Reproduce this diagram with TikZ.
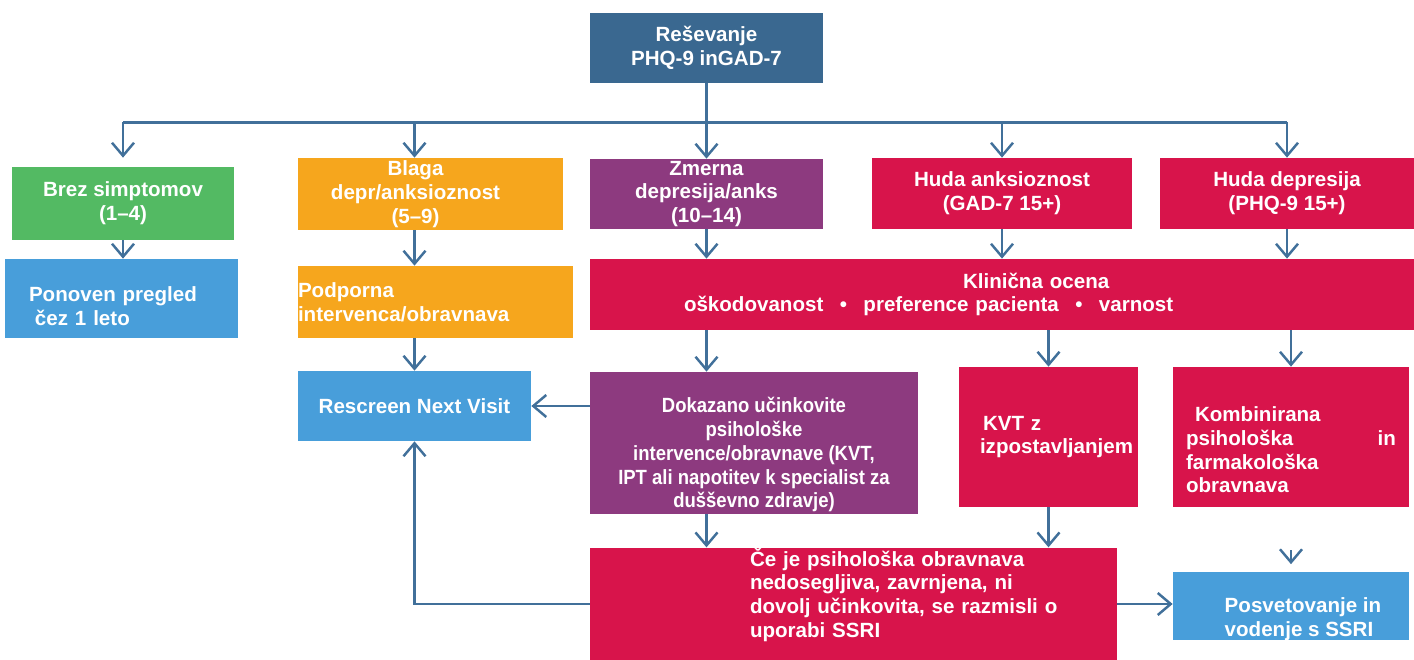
\documentclass[tikz,border=0pt]{standalone}
\usepackage{fontspec}
\setmainfont{Liberation Sans}
\newfontfamily\narrowsf[FakeStretch=0.9]{Liberation Sans}
\usepackage{tikz}
\usepackage{xcolor}
\usetikzlibrary{arrows.meta}
\definecolor{scr}{HTML}{3A6890}
\definecolor{nosym}{HTML}{53BA63}
\definecolor{mild}{HTML}{F6A61D}
\definecolor{mod}{HTML}{8D3A7F}
\definecolor{sev}{HTML}{D8144B}
\definecolor{visit}{HTML}{489EDA}
\definecolor{edge}{HTML}{41709A}
\tikzset{box/.style={text=white, font=\bfseries\fontsize{11.7}{13.5}\selectfont, inner sep=0pt, align=center}}
\tikzset{narrow/.style={font=\narrowsf\bfseries\fontsize{11.7}{13.5}\selectfont}}
\tikzset{scr/.style={box, fill=scr}}
\tikzset{nosym/.style={box, fill=nosym}}
\tikzset{mild/.style={box, fill=mild}}
\tikzset{mod/.style={box, fill=mod}}
\tikzset{sev/.style={box, fill=sev}}
\tikzset{visit/.style={box, fill=visit}}
\tikzset{wire/.style={draw=edge, line width=1.4pt}}
\tikzset{flow/.style={wire, -{Straight Barb[length=0.26cm, width=0.44cm]}}}

\begin{document}
\begin{tikzpicture}
    \useasboundingbox (0,0) rectangle (28.28,-13.2);

    \node[scr, minimum width=4.66cm, minimum height=1.4cm] (resev) at (14.13,-0.96) {Reševanje\\PHQ-9 inGAD-7};

    \node[nosym, minimum width=4.44cm, minimum height=1.46cm] (brez) at (2.46,-4.07) {Brez simptomov\\(1–4)};
    \node[visit, minimum width=4.66cm, minimum height=1.58cm, text width=3.7cm, align=left] (ponoven) at (2.43,-5.97) {\rule{0pt}{0.6cm}Ponoven pregled\\\hspace*{0.12cm}čez 1 leto};

    \node[mild, minimum width=5.3cm, minimum height=1.44cm, text width=4.7cm] (blaga) at (8.61,-3.88) {Blaga\hspace*{0.6cm}\mbox{}\\depr/anksioznost\hspace*{0.6cm}\mbox{}\\(5–9)\hspace*{0.6cm}\mbox{}};
    \node[mild, minimum width=5.5cm, minimum height=1.44cm, text width=5.5cm, align=left] (podporna) at (8.71,-6.04) {Podporna\\intervenca/obravnava};
    \node[visit, minimum width=4.66cm, minimum height=1.4cm] (rescreen) at (8.29,-8.12) {Rescreen Next Visit};

    \node[mod, minimum width=4.66cm, minimum height=1.4cm] (zmerna) at (14.13,-3.88) {Zmerna\\depresija/anks\\(10–14)};
    \node[sev, minimum width=5.2cm, minimum height=1.42cm] (hudaanks) at (20.04,-3.87) {Huda anksioznost\\(GAD-7 15+)};
    \node[sev, minimum width=5.08cm, minimum height=1.42cm] (hudadep) at (25.74,-3.87) {Huda depresija\\(PHQ-9 15+)};

    \node[sev, minimum width=16.48cm, minimum height=1.42cm, text width=12.72cm, align=left] (klin) at (20.04,-5.89) {\hspace*{5.58cm}Klinična ocena\\oškodovanost\hspace{0.8em}•\hspace{0.8em}preference pacienta\hspace{0.8em}•\hspace{0.8em}varnost};

    \node[mod, narrow, minimum width=6.56cm, minimum height=2.84cm] (dokaz) at (15.08,-8.86) {\rule{0pt}{0.78cm}Dokazano učinkovite\\psihološke\\intervence/obravnave (KVT,\\IPT ali napotitev k specialist za\\dušševno zdravje)};
    \node[sev, minimum width=3.58cm, minimum height=2.8cm, text width=2.74cm, align=left] (kvt) at (20.97,-8.74) {\hspace*{0.06cm}KVT z\\izpostavljanjem};
    \node[sev, minimum width=4.72cm, minimum height=2.8cm, text width=4.2cm, align=left] (kombi) at (25.82,-8.74) {\rule{0pt}{0.82cm}\hspace*{0.18cm}Kombinirana\\psihološka\hspace{0pt plus 1filll}in\\farmakološka\\obravnava};

    \node[sev, minimum width=10.54cm, minimum height=2.24cm, text width=8.6cm, align=left] (ce) at (17.07,-12.08) {\hspace*{2.23cm}Če je psihološka obravnava\\\hspace*{2.23cm}nedosegljiva, zavrnjena, ni\\\hspace*{2.23cm}dovolj učinkovita, se razmisli o\\\hspace*{2.23cm}uporabi SSRI\rule[-0.46cm]{0pt}{0pt}};
    \node[visit, minimum width=4.72cm, minimum height=1.36cm, align=left] (posv) at (25.82,-12.12) {\rule{0pt}{0.82cm}\hspace*{0.48cm}Posvetovanje in\\\hspace*{0.48cm}vodenje s SSRI};

    \draw[wire] (resev.south) -- ++(0,-0.78) coordinate (bus);
    \draw[wire] (bus -| brez) -- (bus -| hudadep);
    \draw[flow] (bus -| brez) -- ([yshift=0.18cm]brez.north);
    \draw[flow] (bus -| rescreen) -- (rescreen |- blaga.north);
    \draw[flow] (bus) -- (zmerna.north);
    \draw[flow] (bus -| hudaanks) -- (hudaanks.north);
    \draw[flow] (bus -| hudadep) -- (hudadep.north);
    \draw[flow] (brez.south) -- (brez.south |- ponoven.north);
    \draw[flow] (rescreen |- blaga.south) -- (rescreen |- podporna.north);
    \draw[flow] (rescreen |- podporna.south) -- (rescreen.north);
    \draw[flow] (zmerna.south) -- (zmerna |- klin.north);
    \draw[flow] (hudaanks.south) -- (hudaanks |- klin.north);
    \draw[flow] (hudadep.south) -- (hudadep |- klin.north);
    \draw[flow] (zmerna |- klin.south) -- (zmerna |- dokaz.north);
    \draw[flow] (kvt |- klin.south) -- (kvt.north);
    \draw[flow] (kombi |- klin.south) -- (kombi.north);
    \draw[flow] (dokaz.west |- rescreen) -- (rescreen.east);
    \draw[flow] (zmerna |- dokaz.south) -- (zmerna |- ce.north);
    \draw[flow] (kvt.south) -- (kvt |- ce.north);
    \draw[flow] (ce.west) -| (rescreen.south);
    \draw[flow] (ce.east) -- (ce.east -| posv.west);
    \draw[flow] ([yshift=0.42cm]posv.north) -- ([yshift=0.14cm]posv.north);
\end{tikzpicture}
\end{document}
